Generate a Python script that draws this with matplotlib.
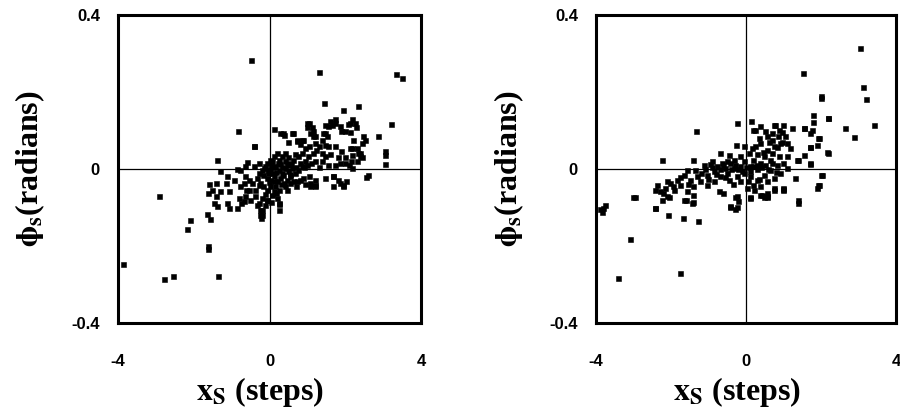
import matplotlib
matplotlib.use("Agg")
import matplotlib.pyplot as plt
import numpy as np

plt.rcParams['mathtext.fontset'] = 'stix'

# left panel: (x_s, phi_s)
left_pts = [
    (-0.49, 0.284), (1.31, 0.253), (3.33, 0.246), (3.51, 0.236), (1.45, 0.171),
    (1.95, 0.154), (2.34, 0.164), (3.22, 0.118), (2.87, 0.087), (3.04, 0.046),
    (3.04, 0.037), (3.04, 0.014), (2.59, -0.015), (2.55, -0.021), (-0.83, 0.098),
    (-0.42, 0.061), (-1.38, 0.024), (-2.92, -0.071), (-2.10, -0.133), (-2.19, -0.157),
    (-1.62, -0.208), (-1.62, -0.200), (-3.88, -0.248), (-2.79, -0.285), (-2.55, -0.277),
    (-1.36, -0.277), (0.26, -0.106), (0.26, -0.090), (-0.22, -0.127), (-0.26, -0.119),
    (-1.64, -0.118), (-1.58, -0.131),
    (2.19, 0.130), (2.25, 0.119), (2.28, 0.110), (2.08, 0.118), (1.61, 0.124),
    (1.73, 0.130), (1.46, 0.115), (1.03, 0.119), (0.98, 0.109), (1.14, 0.098),
    (1.20, 0.085), (1.42, 0.093), (1.51, 0.085), (1.90, 0.098), (2.12, 0.095),
    (2.47, 0.085), (2.52, 0.076), (2.43, 0.067), (0.11, 0.104), (0.35, 0.093),
    (0.61, 0.093), (0.72, 0.072), (0.81, 0.066), (0.89, 0.076), (2.17, 0.054),
    (2.19, 0.037), (2.38, 0.042), (2.17, 0.003),
    (-0.40, 0.059), (-0.59, 0.018), (-0.29, 0.016), (-1.31, -0.004), (-1.12, -0.017),
    (-0.86, 0.000), (-1.60, -0.039), (-1.40, -0.036), (-1.63, -0.062), (-1.51, -0.054),
    (-1.40, -0.071), (-1.31, -0.058), (-1.47, -0.088), (-1.38, -0.095), (-1.12, -0.088),
    (-1.08, -0.101), (-0.86, -0.101), (-0.74, -0.088), (-0.64, -0.071), (-0.68, -0.036),
    (-0.55, -0.028), (-0.61, -0.054), (-0.38, -0.054), (-0.29, -0.041), (-0.51, -0.080),
    (-0.33, -0.093), (-0.26, -0.106), (-0.20, -0.119), (-0.11, -0.093), (-0.07, -0.080),
    (-0.20, -0.075), (0.24, -0.088), (0.18, -0.062), (0.19, -0.075),
    (0.46, -0.054), (0.81, -0.028), (1.03, -0.019), (1.07, -0.036), (1.20, -0.045),
    (1.20, -0.028), (1.67, -0.045), (1.68, -0.019), (1.93, -0.045), (2.02, -0.032),
    (1.81, -0.028),
    (0.28, 0.093), (0.37, 0.089), (0.59, 0.093), (0.72, 0.076), (0.85, 0.076),
    (0.98, 0.119), (1.07, 0.093), (1.16, 0.085), (1.20, 0.067), (1.38, 0.076),
    (1.46, 0.093), (1.55, 0.111), (1.64, 0.115), (1.73, 0.119), (1.86, 0.111),
    (1.99, 0.098), (2.12, 0.119), (2.21, 0.076), (2.30, 0.054), (2.34, 0.042),
    (2.12, 0.054), (1.90, 0.046), (1.73, 0.059), (1.55, 0.059), (1.38, 0.042),
    (1.24, 0.050), (1.46, 0.063),
    (0.06, 0.020), (0.24, 0.024), (0.41, 0.042), (0.32, 0.033), (0.19, 0.042),
    (0.50, 0.016), (0.63, 0.024), (0.76, 0.033), (0.85, 0.042), (1.02, 0.033),
    (1.16, 0.042), (0.94, 0.020), (1.20, 0.020), (1.38, 0.020), (1.46, 0.033),
    (1.55, 0.011), (1.73, 0.011), (1.86, 0.016), (1.99, 0.016), (2.16, 0.020),
    (2.30, 0.020), (2.38, 0.033),
    (-0.11, 0.007), (-0.03, -0.002), (0.06, -0.010), (0.15, 0.007), (0.24, -0.002),
    (0.32, -0.010), (0.41, 0.003), (0.50, -0.006), (0.59, 0.003), (0.67, -0.010),
    (0.76, -0.002), (0.85, 0.007), (-0.16, -0.015), (-0.07, -0.023), (0.02, -0.028),
    (0.11, -0.019), (0.19, -0.032), (0.28, -0.023), (0.37, -0.036), (0.46, -0.028),
    (0.54, -0.019), (0.63, -0.032), (-0.07, 0.016), (0.02, 0.024), (0.11, 0.033),
    (-0.20, -0.002), (-0.29, -0.010), (-0.33, -0.023), (-0.25, -0.036), (-0.16, -0.045),
    (-0.07, -0.054), (0.02, -0.045), (0.11, -0.058), (0.24, -0.054), (0.41, -0.045),
    (0.54, -0.036), (0.72, -0.032), (0.89, -0.023), (1.07, -0.045), (1.20, -0.041),
    (1.46, -0.023), (1.68, -0.019), (1.86, -0.036), (1.94, -0.041),
    (-1.16, -0.036), (-1.08, -0.058), (-0.95, -0.028), (-0.77, -0.045), (-0.64, -0.019),
    (-0.55, -0.054), (-0.46, -0.036), (-0.38, -0.071), (-0.29, -0.088), (-0.20, -0.106),
    (-0.07, -0.080), (0.06, -0.067), (-0.81, -0.075), (-0.68, -0.084), (-0.64, 0.007),
    (-0.77, -0.002), (-0.42, 0.007),
    # extra core density
    (0.00, 0.000), (0.09, 0.005), (0.18, -0.008), (0.27, 0.012), (0.36, -0.016),
    (0.45, 0.010), (0.54, -0.012), (0.13, -0.030), (0.30, -0.040), (0.04, 0.010),
    (-0.05, -0.010), (-0.14, 0.002), (0.22, 0.016), (0.40, 0.022), (0.58, 0.012),
    (0.70, 0.005), (0.80, 0.015), (0.92, 0.005), (1.00, 0.010), (1.10, 0.015),
    (0.15, -0.045), (-0.02, -0.035), (0.33, 0.005), (0.48, 0.030), (0.66, 0.040),
    (0.95, 0.055), (1.05, 0.060), (1.30, 0.060), (1.60, 0.040), (1.80, 0.030),
    (2.00, 0.030), (2.10, 0.010), (2.45, 0.030), (1.30, 0.005), (0.05, -0.085),
    (-0.12, -0.065), (0.70, -0.045), (0.95, -0.040), (1.12, 0.110), (0.50, 0.070),
]

# right panel: (x_s, phi_s)
right_pts = [
    (-0.24, 0.120), (0.14, 0.126), (-1.32, 0.098), (-0.26, 0.063), (-2.24, 0.024),
    (-1.40, 0.024),
    (-0.68, 0.042), (-0.46, 0.037), (-0.64, 0.016), (-0.91, 0.020), (-1.13, 0.011),
    (-1.35, -0.002), (-1.57, -0.002), (-1.66, -0.015), (-1.84, -0.028), (-2.02, -0.036),
    (-2.11, -0.032), (-2.37, -0.041), (-2.42, -0.054), (-2.28, -0.058), (-2.20, -0.062),
    (-1.93, -0.054), (-1.75, -0.041), (-1.48, -0.028), (-1.40, -0.045), (-1.57, -0.058),
    (-1.31, -0.019), (-1.04, -0.015), (-0.86, -0.006), (-0.77, 0.007), (-0.55, 0.003),
    (-0.42, 0.016), (-0.33, 0.024), (-0.15, 0.033), (-0.06, 0.020), (0.07, 0.042),
    (0.20, 0.024), (0.29, 0.011), (0.12, 0.007), (-0.15, 0.007), (-0.33, 0.003),
    (-0.51, -0.010), (-0.68, -0.019), (-0.86, -0.032), (-1.04, -0.041), (-1.22, -0.032),
    (-0.46, -0.028), (-0.24, -0.019), (-0.06, -0.010), (0.12, -0.019), (0.29, -0.028),
    (0.47, -0.015), (0.65, -0.002), (0.83, 0.011), (1.00, 0.016), (1.09, 0.003),
    (0.92, -0.010), (0.74, -0.023), (0.56, -0.032), (0.38, -0.045), (0.20, -0.041),
    (0.03, -0.049),
    (-2.24, -0.080), (-2.11, -0.071), (-1.66, -0.080), (-1.44, -0.088), (-2.42, -0.100),
    (-0.60, -0.062), (-0.73, -0.058), (-0.24, -0.071), (-0.20, -0.084), (-0.42, -0.097),
    (0.12, -0.075), (0.38, -0.067), (0.56, -0.071), (0.74, -0.054), (1.00, -0.054),
    (0.25, 0.102), (0.38, 0.111), (0.56, 0.085), (0.69, 0.094), (0.78, 0.115),
    (0.87, 0.102), (1.00, 0.115), (1.05, 0.085), (1.09, 0.068), (0.92, 0.068),
    (0.74, 0.059), (0.56, 0.050), (0.38, 0.068), (0.25, 0.059), (0.47, 0.033),
    (0.69, 0.042), (0.87, 0.033), (0.65, 0.024), (0.38, 0.016), (1.09, 0.033),
    (3.03, 0.314), (1.51, 0.249), (3.11, 0.212), (3.20, 0.181), (2.00, 0.190),
    (2.00, 0.184), (3.42, 0.114), (2.65, 0.107), (2.87, 0.082), (2.18, 0.132),
    (1.80, 0.140), (1.80, 0.123), (1.76, 0.101), (1.56, 0.106), (1.92, 0.081),
    (1.89, 0.062), (1.72, 0.058), (2.18, 0.042), (1.72, 0.013), (1.40, 0.023),
    (2.01, -0.016), (1.92, -0.042), (1.89, -0.050), (1.40, -0.081), (1.38, -0.089),
    (1.00, -0.053), (1.32, -0.024),
    (-2.97, -0.072), (-2.42, -0.102), (-2.06, -0.072), (-2.08, -0.120), (-1.69, -0.126),
    (-1.28, -0.134), (-1.60, -0.081), (-1.42, -0.085), (-1.40, -0.068), (-3.75, -0.094),
    (-3.84, -0.111), (-3.80, -0.100), (-3.88, -0.105), (-3.10, -0.183), (-3.42, -0.283),
    (-1.77, -0.270), (-0.42, -0.098), (-0.28, -0.105), (0.43, -0.068), (0.56, -0.072),
    (0.20, 0.101), (0.34, 0.080), (0.74, 0.114), (1.23, 0.106), (1.54, 0.106),
    (1.71, 0.093), (1.94, 0.080), (1.71, 0.058), (2.16, 0.045), (2.20, 0.132),
    (0.69, 0.075), (0.83, 0.058), (0.96, 0.071), (1.18, 0.054), (1.36, 0.023),
    (1.54, 0.036), (1.71, 0.015), (2.03, -0.016), (1.94, -0.041),
    (0.56, -0.063), (0.47, -0.072), (0.74, -0.050), (1.00, -0.050), (0.11, -0.072),
    (-0.24, -0.098), (-0.29, -0.072), (-3.00, -0.072),
    # extra core density
    (-0.90, 0.005), (-0.80, -0.012), (-0.70, 0.000), (-0.60, 0.010), (-0.50, 0.020),
    (-0.40, 0.000), (-0.30, 0.010), (-0.20, 0.000), (-0.10, -0.004), (0.00, 0.005),
    (0.10, -0.005), (0.20, 0.008), (0.30, 0.000), (0.40, 0.005), (0.50, 0.010),
    (-1.20, -0.010), (-1.10, 0.000), (-1.00, -0.025), (-0.95, 0.012), (-0.55, -0.020),
    (-0.35, -0.040), (-0.15, -0.030), (0.05, -0.030), (0.22, -0.055), (0.35, -0.025),
    (0.58, 0.000), (0.70, 0.015), (0.80, -0.008), (0.45, 0.045), (0.62, 0.070),
    (0.85, 0.085), (0.95, 0.095), (0.52, 0.100), (0.30, 0.040), (0.15, 0.055),
    (-1.75, -0.020), (-1.95, -0.045), (-2.15, -0.050), (-1.55, -0.040), (-0.05, 0.060),
]

xticks = [-4, 0, 4]
yticks = [-0.4, 0, 0.4]

fig = plt.figure(figsize=(9, 4.17), dpi=100)
positions = [[0.1311, 0.2254, 0.3367, 0.7386], [0.6622, 0.2254, 0.3333, 0.7386]]

for pos, pts in zip(positions, [left_pts, right_pts]):
    ax = fig.add_axes(pos)
    xs = [p[0] for p in pts]
    ys = [p[1] for p in pts]
    ax.axhline(0, color='black', lw=0.9, zorder=1)
    ax.axvline(0, color='black', lw=0.9, zorder=1)
    ax.plot(xs, ys, 's', color='black', ms=3.6, mew=0.4, zorder=3)
    ax.set_xlim(-4, 4)
    ax.set_ylim(-0.4, 0.4)
    ax.set_xticks(xticks)
    ax.set_yticks(yticks)
    ax.set_xticklabels(['-4', '0', '4'])
    ax.set_yticklabels(['-0.4', '0', '0.4'])
    ax.tick_params(length=0, labelsize=12)
    ax.tick_params(axis='x', pad=22)
    ax.tick_params(axis='y', pad=13)
    for lab in ax.get_xticklabels() + ax.get_yticklabels():
        lab.set_fontfamily('Liberation Sans')
        lab.set_fontweight('bold')
    for sp in ax.spines.values():
        sp.set_linewidth(2.2)
    ax.set_xlabel(r'$\mathbf{x_S}$ (steps)', fontsize=23, fontfamily='Liberation Serif',
                  fontweight='bold')
    ax.set_ylabel(r'$\mathbf{\phi_s}$(radians)', fontsize=23, fontfamily='Liberation Serif',
                  fontweight='bold')
    ax.xaxis.label.set_va('center')
    ax.yaxis.label.set_va('center')
    ax.xaxis.set_label_coords(0.47, -0.224)
    ax.yaxis.set_label_coords(-0.29, 0.5)

fig.savefig('out.png', dpi=100)
